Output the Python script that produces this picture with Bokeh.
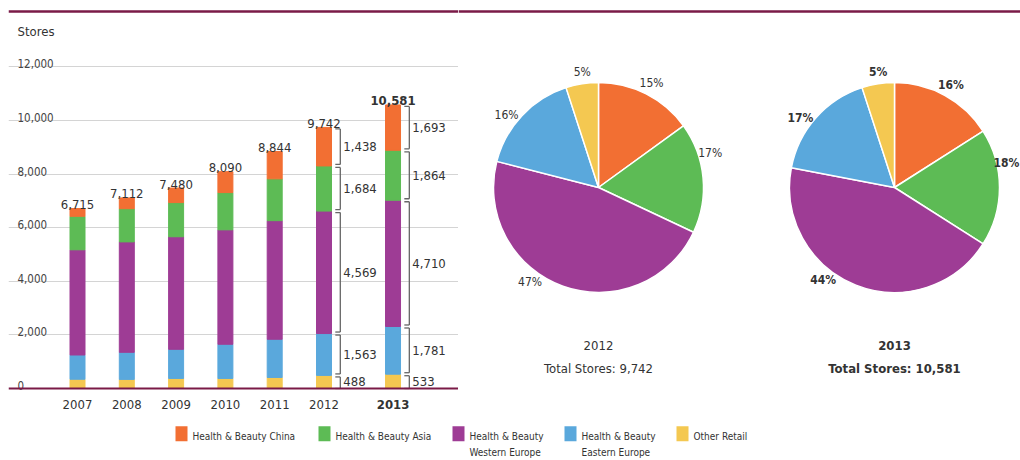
from bokeh.plotting import figure
from bokeh.layouts import column, row
from bokeh.models import Range1d, Span, FixedTicker, ColumnDataSource, Grid
from bokeh.core.properties import value
from bokeh.embed import file_html
from bokeh.resources import INLINE
import math

# ---- data -------------------------------------------------------------
years = ["2007", "2008", "2009", "2010", "2011", "2012", "2013"]
other_retail = [345, 340, 375, 375, 412, 488, 533]
hb_eastern_europe = [905, 1010, 1087, 1275, 1425, 1563, 1781]
hb_western_europe = [3925, 4120, 4200, 4270, 4425, 4569, 4710]
hb_asia = [1250, 1240, 1275, 1390, 1560, 1684, 1864]
hb_china = [290, 402, 543, 780, 1022, 1438, 1693]

y_ticks = [0, 2000, 4000, 6000, 8000, 10000, 12000]

pie_years = ["2012", "2013"]
# share of stores (%), order: China, Asia, Western Europe, Eastern Europe, Other
pie_share_2012 = [15, 17, 47, 16, 5]
pie_share_2013 = [16, 18, 44, 17, 5]

series_names = ["Health & Beauty China", "Health & Beauty Asia",
                "Health & Beauty\nWestern Europe", "Health & Beauty\nEastern Europe",
                "Other Retail"]

# ---- style ------------------------------------------------------------
FONT = "DejaVu Sans Condensed"
C_CHINA, C_ASIA, C_WE, C_EE, C_OTHER = "#F26F33", "#5DBB55", "#9E3C95", "#5AA8DC", "#F4C851"
MAROON = "#7A1A47"
TXT = "#333333"
GRID = "#d4d4d4"
BRACKET = "#666666"

totals = [a + b + c + d + e for a, b, c, d, e in
          zip(other_retail, hb_eastern_europe, hb_western_europe, hb_asia, hb_china)]

# ---- bar chart geometry (pixels) ---------------------------------------
H_PX = 416
ZERO_PX = 388.0
PX_PER_STORE = 26.8 / 1000.0
SPP = 1.0 / PX_PER_STORE
LEFT_PX = 8
BAR_FIG_W = 458
FRAME_W = BAR_FIG_W - LEFT_PX
UNIT_PX = 49.3
FIRST_PX = 77.0
HIGHLIGHT_GAP = 0.4

x_start = -(FIRST_PX - LEFT_PX) / UNIT_PX
x_end = x_start + FRAME_W / UNIT_PX
y_start = -(H_PX - ZERO_PX) * SPP
y_end = ZERO_PX * SPP


def py(pix):
    """page pixel row -> stores"""
    return (ZERO_PX - pix) * SPP


n = len(years)
xs = [i + (HIGHLIGHT_GAP if i == n - 1 else 0) for i in range(n)]

p = figure(width=BAR_FIG_W, height=H_PX, output_backend="svg", toolbar_location=None,
           x_range=Range1d(x_start, x_end), y_range=Range1d(y_start, y_end),
           x_axis_location=None, y_axis_location=None,
           min_border_left=LEFT_PX, min_border_right=0, min_border_top=0, min_border_bottom=0)
p.outline_line_color = None
p.background_fill_color = "white"
for g in p.grid:
    g.visible = False
p.add_layout(Grid(dimension=1, ticker=FixedTicker(ticks=y_ticks[1:]),
                  grid_line_color=GRID, grid_line_width=1.2))

src = ColumnDataSource(dict(x=xs, other=other_retail, ee=hb_eastern_europe,
                            we=hb_western_europe, asia=hb_asia, china=hb_china))
p.vbar_stack(["other", "ee", "we", "asia", "china"], x="x", width=15 / UNIT_PX,
             color=[C_OTHER, C_EE, C_WE, C_ASIA, C_CHINA], source=src)

# baseline and top rule
p.add_layout(Span(location=0, dimension="width", line_color=MAROON, line_width=2))
p.add_layout(Span(location=py(11), dimension="width", line_color=MAROON, line_width=2.5))

# y tick labels, left aligned above the grid lines
p.text(x=[x_start] * len(y_ticks), y=y_ticks, text=[f"{t:,}" for t in y_ticks],
       x_offset=9, y_offset=-3, text_font=value(FONT), text_font_size="11.5px",
       text_color="#444444", text_baseline="alphabetic", text_align="left")
p.text(x=[x_start], y=[py(30.5)], text=["Stores"], x_offset=9,
       text_font=value(FONT), text_font_size="13px", text_color=TXT,
       text_baseline="alphabetic", text_align="left")

styles = ["bold" if i == n - 1 else "normal" for i in range(n)]
lab_src = ColumnDataSource(dict(x=xs, tot=totals, zero=[0] * n,
                                tot_txt=[f"{t:,}" for t in totals], yr=years, st=styles))
p.text(x="x", y="tot", text="tot_txt", source=lab_src, y_offset=-4,
       text_font=value(FONT), text_font_size="13px", text_font_style="st",
       text_color=TXT, text_align="center", text_baseline="alphabetic")
p.text(x="x", y="zero", text="yr", source=lab_src, y_offset=16,
       text_font=value(FONT), text_font_size="13px", text_font_style="st",
       text_color=TXT, text_align="center", text_baseline="middle")

# brackets with segment values for the two latest years
BR_DX = 16.3 / UNIT_PX
TICK = 5.0 / UNIT_PX
GAP = 1.5 * SPP
for i in (n - 2, n - 1):
    segs = [other_retail[i], hb_eastern_europe[i], hb_western_europe[i], hb_asia[i], hb_china[i]]
    xv = xs[i] + BR_DX
    base = 0
    vx0, vy0, vx1, vy1 = [], [], [], []
    lx, ly, lt = [], [], []
    for s in segs:
        lo, hi = base, base + s
        blo = lo + (GAP if lo > 0 else 0)
        bhi = hi - GAP
        vx0 += [xv, xv - TICK, xv - TICK]
        vy0 += [blo, blo, bhi]
        vx1 += [xv, xv, xv]
        vy1 += [bhi, blo, bhi]
        lx.append(xv)
        ly.append((lo + hi) / 2)
        lt.append(f"{s:,}")
        base = hi
    p.segment(x0=vx0, y0=vy0, x1=vx1, y1=vy1, line_color=BRACKET, line_width=1.3)
    p.text(x=lx, y=ly, text=lt, x_offset=3, text_font=value(FONT), text_font_size="13px",
           text_color=TXT, text_align="left", text_baseline="middle")

# ---- pies ---------------------------------------------------------------
PIE_W = 1020 - BAR_FIG_W
q = figure(width=PIE_W, height=H_PX, output_backend="svg", toolbar_location=None,
           x_range=Range1d(0, PIE_W), y_range=Range1d(0, H_PX),
           x_axis_location=None, y_axis_location=None,
           min_border_left=0, min_border_right=0, min_border_top=0, min_border_bottom=0)
q.outline_line_color = None
for g in q.grid:
    g.visible = False
q.add_layout(Span(location=H_PX - 11, dimension="width", line_color=MAROON, line_width=2.5))

pie_colors = [C_CHINA, C_ASIA, C_WE, C_EE, C_OTHER]
pie_cx = [598 - BAR_FIG_W, 894 - BAR_FIG_W]
PIE_CY = H_PX - 187
PIE_R = 105
LABEL_R = 117
LABEL_HALF_W = 14
label_nudge_deg = [0, -12, 16, -5, 1]
pie_totals = {"2012": totals[years.index("2012")], "2013": totals[years.index("2013")]}

for k, (yr, shares) in enumerate(zip(pie_years, [pie_share_2012, pie_share_2013])):
    cx = pie_cx[k]
    tot = sum(shares)
    c0 = 0.0
    starts, ends, lxs, lys, lts = [], [], [], [], []
    for j, s in enumerate(shares):
        c1 = c0 + s / tot
        th0, th1 = 2 * math.pi * c0, 2 * math.pi * c1
        starts.append(math.pi / 2 - th1)
        ends.append(math.pi / 2 - th0)
        tm = (th0 + th1) / 2 + math.radians(label_nudge_deg[j])
        # keep labels inside the plotting area
        lxs.append(min(cx + LABEL_R * math.sin(tm), PIE_W - LABEL_HALF_W))
        lys.append(PIE_CY + LABEL_R * math.cos(tm))
        lts.append(f"{s}%")
        c0 = c1
    q.wedge(x=cx, y=PIE_CY, radius=PIE_R, start_angle=starts, end_angle=ends,
            fill_color=pie_colors, line_color="white", line_width=1.5)
    style = "bold" if yr == "2013" else "normal"
    q.text(x=lxs, y=lys, text=lts, text_font=value(FONT), text_font_size="12px",
           text_font_style=style, text_color=TXT, text_align="center", text_baseline="middle")
    q.text(x=[cx, cx], y=[H_PX - 345, H_PX - 368],
           text=[yr, f"Total Stores: {pie_totals[yr]:,}"],
           text_font=value(FONT), text_font_size="13px", text_font_style=style,
           text_color=TXT, text_align="center", text_baseline="middle")

# ---- legend -------------------------------------------------------------
LEG_H = 460 - H_PX
lg = figure(width=1020, height=LEG_H, output_backend="svg", toolbar_location=None,
            x_range=Range1d(0, 1020), y_range=Range1d(0, LEG_H),
            x_axis_location=None, y_axis_location=None,
            min_border_left=0, min_border_right=0, min_border_top=0, min_border_bottom=0)
lg.outline_line_color = None
for g in lg.grid:
    g.visible = False
leg_left = [175, 318, 452, 564, 676]
lg.rect(x=[v + 6 for v in leg_left], y=[460 - 433.2] * 5, width=12, height=15,
        fill_color=pie_colors, line_color=None)
tx, ty, tt = [], [], []
for j, name in enumerate(series_names):
    for m, line in enumerate(name.split("\n")):
        tx.append(leg_left[j] + 17)
        ty.append(460 - (435.7 + 16.0 * m))
        tt.append(line)
lg.text(x=tx, y=ty, text=tt, text_font=value(FONT), text_font_size="10px",
        text_color=TXT, text_align="left", text_baseline="middle")

layout = column(row(p, q, spacing=0), lg, spacing=0)
open("out.html", "w").write(file_html(layout, INLINE))
